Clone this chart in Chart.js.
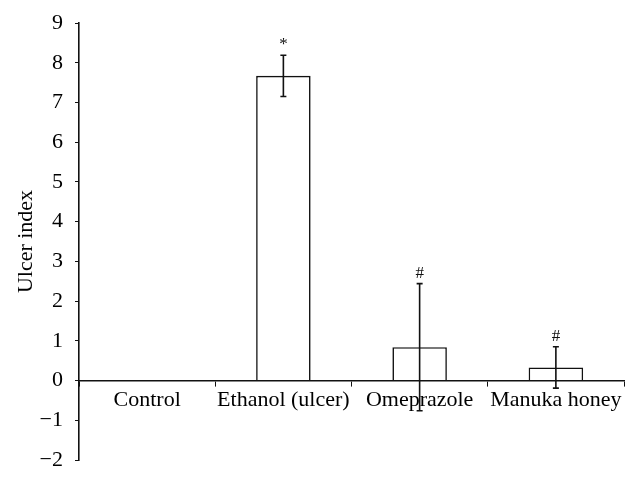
<!DOCTYPE html>
<html>
<head>
<meta charset="utf-8">
<script src="https://cdn.jsdelivr.net/npm/chart.js@4"></script>
<style>
  html, body { margin: 0; padding: 0; background: #fff; }
  #wrap { width: 639px; height: 478px; }
</style>
</head>
<body>
<div id="wrap"><canvas id="ulcerChart" width="639" height="478"></canvas></div>
<script>
const categories = ['Control', 'Ethanol (ulcer)', 'Omeprazole', 'Manuka honey'];
const ulcerIndex = [0, 7.67, 0.84, 0.33];
const ulcerError = [0, 0.52, 1.6, 0.52];
const marks = ['', '*', '#', '#'];
const yMin = -2;
const yMax = 9;

const FONT = 'Liberation Serif, Times New Roman, serif';

// error bars + significance marks
const errorBars = {
    id: 'errorBars',
    afterDatasetsDraw(chart) {
        const ctx = chart.ctx;
        const y = chart.scales.y;
        const meta = chart.getDatasetMeta(0);
        ctx.save();
        ctx.strokeStyle = '#111';
        ctx.lineWidth = 1.6;
        meta.data.forEach((bar, i) => {
            const err = ulcerError[i];
            if (!err) return;
            const top = y.getPixelForValue(ulcerIndex[i] + err);
            const bot = y.getPixelForValue(ulcerIndex[i] - err);
            ctx.beginPath();
            ctx.moveTo(bar.x, top);
            ctx.lineTo(bar.x, bot);
            ctx.moveTo(bar.x - 3, top);
            ctx.lineTo(bar.x + 3, top);
            ctx.moveTo(bar.x - 3, bot);
            ctx.lineTo(bar.x + 3, bot);
            ctx.stroke();
            if (marks[i]) {
                ctx.fillStyle = '#111';
                ctx.font = '17px ' + FONT;
                ctx.textAlign = 'center';
                ctx.textBaseline = 'bottom';
                ctx.fillText(marks[i], bar.x, top - 2);
            }
        });
        ctx.restore();
    }
};

new Chart(document.getElementById('ulcerChart').getContext('2d'), {
    type: 'bar',
    data: {
        labels: categories,
        datasets: [{
            label: 'Ulcer index',
            data: ulcerIndex,
            backgroundColor: '#fff',
            borderColor: '#111',
            borderWidth: 1.6,
            categoryPercentage: 1,
            barPercentage: 0.4
        }]
    },
    options: {
        responsive: false,
        animation: false,
        layout: { padding: { top: 23, right: 15, bottom: 18, left: 0 } },
        plugins: {
            legend: { display: false },
            tooltip: { enabled: false }
        },
        scales: {
            x: {
                position: { y: 0 },
                grid: {
                    drawOnChartArea: false,
                    drawTicks: true,
                    tickLength: 5,
                    color: '#111',
                    offset: true
                },
                border: { color: '#111', width: 1.6 },
                ticks: {
                    color: '#000',
                    font: { family: FONT, size: 22 },
                    padding: 1,
                    maxRotation: 0,
                    autoSkip: false
                }
            },
            y: {
                min: yMin,
                max: yMax,
                afterFit: s => {
                    s.width = 79;
                    s.paddingTop = 0;
                    s.paddingBottom = 0;
                },
                grid: {
                    drawOnChartArea: false,
                    drawTicks: true,
                    tickLength: 4,
                    color: '#111'
                },
                border: { color: '#111', width: 1.6 },
                ticks: {
                    stepSize: 1,
                    color: '#000',
                    padding: 12,
                    font: { family: FONT, size: 22 },
                    callback: v => (v < 0 ? '\u2212' + Math.abs(v) : String(v))
                },
                title: {
                    display: true,
                    text: 'Ulcer index',
                    color: '#000',
                    font: { family: FONT, size: 22 },
                    padding: { top: 13, bottom: 0 }
                }
            }
        }
    },
    plugins: [errorBars]
});
</script>
</body>
</html>
